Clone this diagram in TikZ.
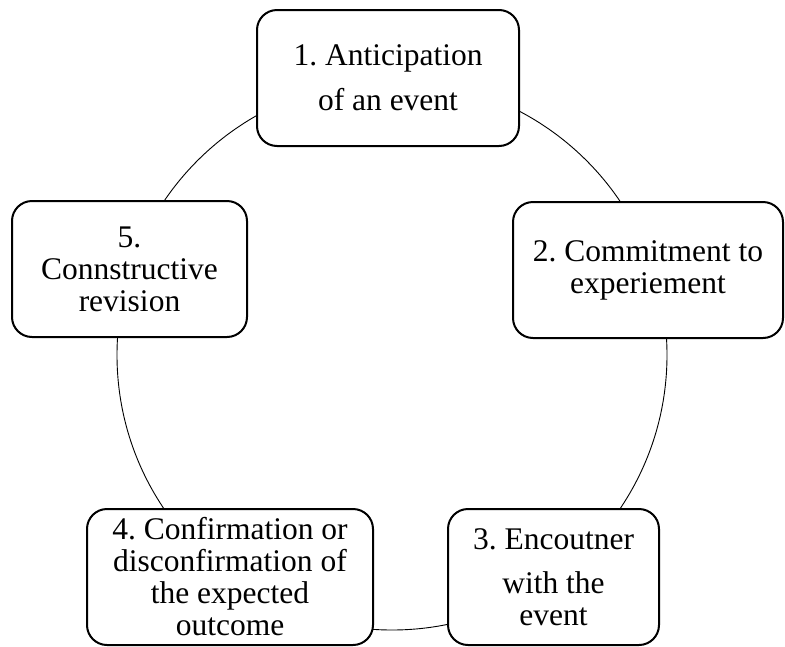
\documentclass[tikz,border=0pt]{standalone}
\usepackage{fontspec}
\setmainfont{Liberation Serif}
\usepackage{tikz}
\usetikzlibrary{positioning}
\frenchspacing

\begin{document}
\begin{tikzpicture}[
  x=1pt, y=-1pt,
  stepbox/.style={rectangle, draw, line width=2pt, fill=white, rounded corners=20pt,
    minimum width=#1, minimum height=136pt, inner sep=0pt, align=center,
    font=\rmfamily\fontsize{31.5}{32}\selectfont}
]
  \useasboundingbox (0,0) rectangle (785,646);
  % the cycle behind the boxes
  \coordinate (hub) at (392,355);
  \draw[line width=0.9pt] (hub) circle [radius=275pt];
  \node[stepbox=262pt] (s1) at (388,78) {1. Anticipation\\[13pt]of an event};
  \node[stepbox=270pt] (s2) at (648,270) {2. Commitment to\\experiement};
  \node[stepbox=211pt] (s3) at (553.5,577) {3. Encoutner\\[12pt]with the\\event};
  \node[stepbox=286pt] (s4) at (230,577) {4. Confirmation or\\disconfirmation of\\the expected\\outcome};
  \node[stepbox=235pt] (s5) at (129.5,269) {5.\\Connstructive\\revision};
\end{tikzpicture}
\end{document}
